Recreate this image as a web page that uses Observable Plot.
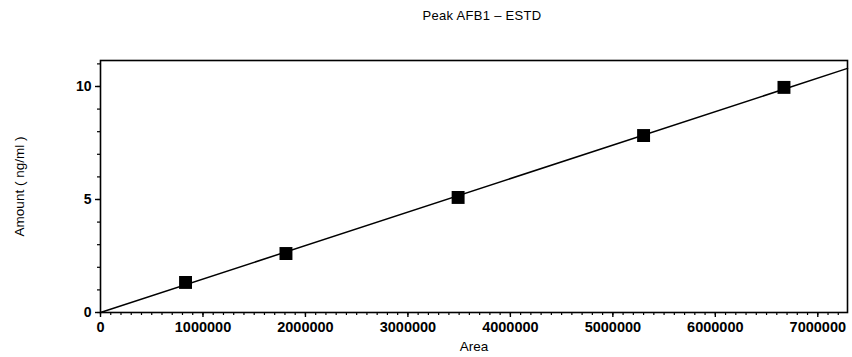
<!DOCTYPE html>
<html>
<head>
<meta charset="utf-8">
<script src="https://cdn.jsdelivr.net/npm/d3@7"></script>
<script src="https://cdn.jsdelivr.net/npm/@observablehq/plot@0.6"></script>
<style>
  body { margin: 0; background: #fff; font-family: "Liberation Sans", Arial, sans-serif; }
  #wrap { position: relative; width: 852px; height: 357px; }
  #title { position: absolute; top: 8px; left: 0; width: 964px; text-align: center; font-size: 13px; color: #000; letter-spacing: 0.3px; }
  #chart { position: absolute; top: 0; left: 0; }
  #chart svg text { font-family: "Liberation Sans", Arial, sans-serif; }
</style>
</head>
<body>
<div id="wrap">
  <div id="chart"></div>
  <div id="title">Peak AFB1 – ESTD</div>
</div>
<script>
const titleText = "Peak AFB1 – ESTD";
const xLabel = "Area";
const yLabel = "Amount ( ng/ml )";

// calibration points
const areaValues = [830000, 1810000, 3490000, 5300000, 6670000];
const amountValues = [1.33, 2.61, 5.09, 7.83, 9.96];

// fitted line endpoints
const fitArea = [0, 7290000];
const fitAmount = [0, 10.8];

const xTicks = [0, 1000000, 2000000, 3000000, 4000000, 5000000, 6000000, 7000000];
const yTicks = [0, 5, 10];
const xMinorStep = 100000;
const yMinorStep = 1;

const xDomain = [0, 7290000];
const yDomain = [0, 11.15];

const points = areaValues.map((a, i) => ({area: a, amount: amountValues[i]}));
const fit = fitArea.map((a, i) => ({area: a, amount: fitAmount[i]}));
const xMinor = d3.range(0, xDomain[1], xMinorStep);
const yMinor = d3.range(0, yDomain[1], yMinorStep);

const chart = Plot.plot({
  width: 852,
  height: 357,
  marginTop: 60,
  marginBottom: 45,
  marginLeft: 100,
  marginRight: 5,
  style: {fontSize: "12px", color: "#000", background: "#fff"},
  x: {domain: xDomain},
  y: {domain: yDomain},
  marks: [
    Plot.axisX({ticks: xMinor, tickSize: 3, tickFormat: () => "", label: null, strokeWidth: 1.2}),
    Plot.axisY({ticks: yMinor, tickSize: 3, tickFormat: () => "", label: null, strokeWidth: 1.2}),
    Plot.axisX({ticks: xTicks, tickSize: 5, tickPadding: 4, tickFormat: d => String(d), fontWeight: "bold",
      fontSize: 14.5, label: null, strokeWidth: 1.4}),
    Plot.axisY({ticks: yTicks, tickSize: 5, tickPadding: 4, tickFormat: d => String(d), fontWeight: "bold",
      fontSize: 14, label: null, strokeWidth: 1.4}),
    Plot.axisX({ticks: [], label: xLabel, labelAnchor: "center", labelArrow: "none", labelOffset: 38, fontSize: 13.5}),
    Plot.axisY({ticks: [], label: yLabel, labelAnchor: "center", labelArrow: "none", labelOffset: 86, fontSize: 13.5}),
    Plot.frame({stroke: "#000", strokeWidth: 1.6}),
    Plot.line(fit, {x: "area", y: "amount", stroke: "#000", strokeWidth: 1.5}),
    Plot.dot(points, {x: "area", y: "amount", symbol: "square", r: 7.3, fill: "#000", stroke: "none"})
  ]
});
document.getElementById("chart").appendChild(chart);
</script>
</body>
</html>
